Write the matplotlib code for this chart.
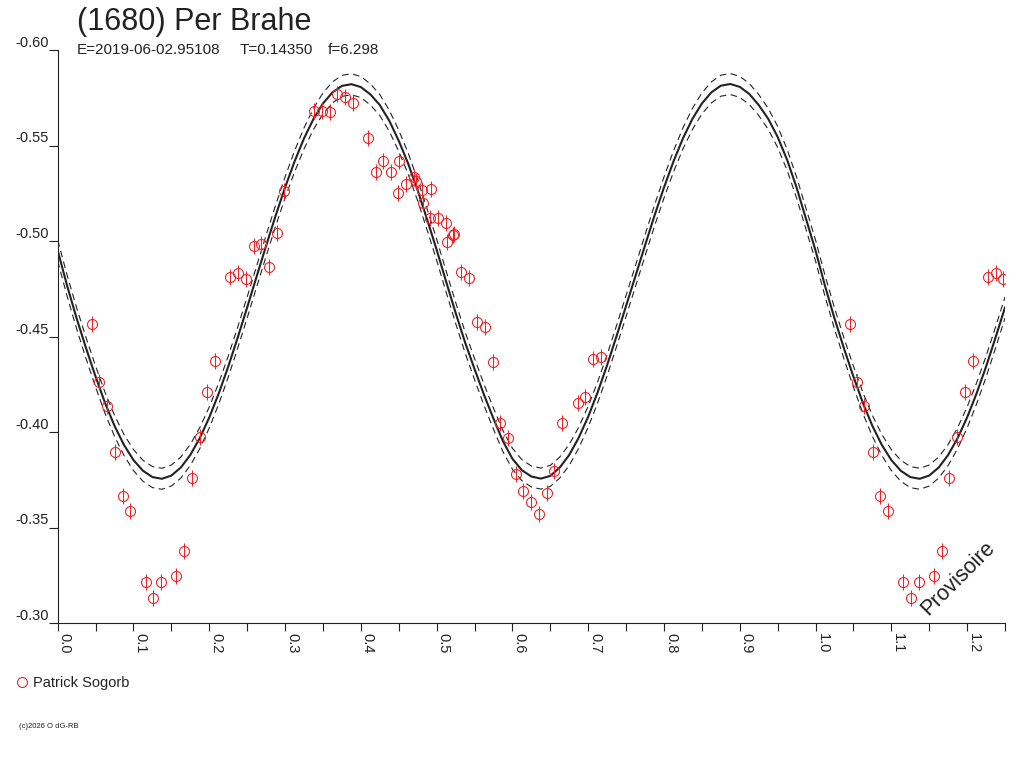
import matplotlib
matplotlib.use("Agg")
import matplotlib.pyplot as plt
from matplotlib.lines import Line2D
import numpy as np

plt.rcParams["font.family"] = ["Liberation Sans", "DejaVu Sans"]
plt.rcParams["axes.unicode_minus"] = False

TITLE = "(1680) Per Brahe"
EPOCH = "E=2019-06-02.95108"
PERIOD = "T=0.14350"
FREQ = "f=6.298"
OBSERVER = "Patrick Sogorb"
STAMP = "(c)2026 O dG-RB"
STATUS = "Provisoire"

# observations (phase, relative magnitude)
obs_phase = [
    0.0450, 0.0550, 0.0646, 0.0756, 0.0857, 0.0958, 0.1160, 0.1262, 0.1363, 0.1565,
    0.1670, 0.1767, 0.1873, 0.1974, 0.2075, 0.2277, 0.2379, 0.2480, 0.2586, 0.2686,
    0.2788, 0.2889, 0.2990, 0.3377, 0.3483, 0.3588, 0.3689, 0.3790, 0.3891, 0.4094,
    0.4199, 0.4296, 0.4397, 0.4499, 0.4485, 0.4591, 0.4707, 0.4731, 0.4810, 0.4921,
    0.4823, 0.4907, 0.5021, 0.5119, 0.5132, 0.5219, 0.5232, 0.5320, 0.5430, 0.5536,
    0.5637, 0.5739, 0.5835, 0.5937, 0.6046, 0.6143, 0.6244, 0.6350, 0.6451, 0.6552,
    0.6653, 0.6860, 0.6956, 0.7058, 0.7164,
]
obs_mag = [
    -0.4565, -0.4262, -0.4136, -0.3897, -0.3665, -0.3585, -0.3216, -0.3129, -0.3216, -0.3248,
    -0.3377, -0.3761, -0.3975, -0.4210, -0.4370, -0.4812, -0.4834, -0.4801, -0.4974, -0.4983,
    -0.4864, -0.5044, -0.5263, -0.5679, -0.5682, -0.5677, -0.5770, -0.5756, -0.5721, -0.5539,
    -0.5360, -0.5420, -0.5360, -0.5420, -0.5253, -0.5297, -0.5334, -0.5314, -0.5267, -0.5272,
    -0.5197, -0.5122, -0.5119, -0.5093, -0.4996, -0.5031, -0.5037, -0.4836, -0.4808, -0.4577,
    -0.4548, -0.4368, -0.4045, -0.3970, -0.3778, -0.3691, -0.3632, -0.3571, -0.3682, -0.3796,
    -0.4049, -0.4150, -0.4182, -0.4382, -0.4394,
]
obs_err = 0.0042

# fitted light curve sampled every 0.0125 in phase, from 0 to 1
fit_mag = [
    -0.4950, -0.4765, -0.4595, -0.4438, -0.4290, -0.4152, -0.4032, -0.3932, -0.3853, -0.3797,
    -0.3764, -0.3755, -0.3772, -0.3814, -0.3880, -0.3968, -0.4076, -0.4202, -0.4342, -0.4494,
    -0.4652, -0.4814, -0.4975, -0.5132, -0.5280, -0.5416, -0.5537, -0.5639, -0.5720, -0.5778,
    -0.5812, -0.5821, -0.5806, -0.5768, -0.5712, -0.5630, -0.5525, -0.5405, -0.5265, -0.5112,
    -0.4955, -0.4788, -0.4625, -0.4470, -0.4330, -0.4195, -0.4070, -0.3952, -0.3860, -0.3800,
    -0.3767, -0.3756, -0.3770, -0.3814, -0.3880, -0.3970, -0.4080, -0.4208, -0.4350, -0.4503,
    -0.4660, -0.4818, -0.4977, -0.5133, -0.5280, -0.5416, -0.5537, -0.5639, -0.5720, -0.5778,
    -0.5813, -0.5822, -0.5807, -0.5770, -0.5712, -0.5640, -0.5545, -0.5425, -0.5280, -0.5115,
    -0.4950,
]
fit_sigma = 0.0055

RED = "#e8262b"
INK = "#222222"

fig = plt.figure(figsize=(10.24, 7.68), dpi=100)
ax = fig.add_axes([57.7 / 1024, 1 - 623 / 768, (1005 - 57.7) / 1024, 573 / 768])

# curve over one rotation plus the first quarter repeated
fit_phase = np.linspace(0, 1, len(fit_mag))
fm = np.array(fit_mag)
cx = np.concatenate([fit_phase, fit_phase[1:21] + 1])
cy = np.concatenate([fm, fm[1:21]])
ax.plot(cx, cy, color=INK, lw=1.5, zorder=2)
for off in (-fit_sigma, fit_sigma):
    ax.plot(cx, cy + off, color=INK, lw=0.8, dashes=(6, 4), zorder=2)

ph = np.array(obs_phase)
mg = np.array(obs_mag)
wrap = ph < 0.25
px = np.concatenate([ph, ph[wrap] + 1])
pm = np.concatenate([mg, mg[wrap]])
ax.errorbar(px, pm, yerr=obs_err, fmt="o", mfc="none", mec=RED, ecolor=RED,
            ms=7.2, mew=0.8, elinewidth=0.8, capsize=0, zorder=3)

ax.set_xlim(0, 1.25)
ax.set_ylim(-0.30, -0.60)
for side in ("top", "right"):
    ax.spines[side].set_visible(False)
for side in ("left", "bottom"):
    ax.spines[side].set_color(INK)
    ax.spines[side].set_linewidth(0.8)

xt = np.round(np.arange(0, 1.21, 0.1), 2)
ax.set_xticks(xt)
ax.set_xticklabels([f"{t:.1f}" for t in xt], rotation=-90, ha="left", va="top")
ax.set_xticks(np.round(np.arange(0.05, 1.26, 0.1), 2), minor=True)
ax.tick_params(axis="x", which="both", direction="out", length=6, width=0.8,
               colors=INK, labelsize=10.5, pad=1.5)

yt = [-0.60, -0.55, -0.50, -0.45, -0.40, -0.35, -0.30]
ax.set_yticks(yt)
ax.set_yticklabels([f"{v:.2f}" for v in yt], va="bottom")
ax.tick_params(axis="y", direction="out", length=6.5, width=0.8,
               colors=INK, labelsize=10.5, pad=0)

fig.text(77 / 1024, 1 - 30 / 768, TITLE, fontsize=22, color=INK, va="baseline")
fig.text(77 / 1024, 1 - 54 / 768, EPOCH, fontsize=11, color=INK, va="baseline")
fig.text(240 / 1024, 1 - 54 / 768, PERIOD, fontsize=11, color=INK, va="baseline")
fig.text(328 / 1024, 1 - 54 / 768, FREQ, fontsize=11, color=INK, va="baseline")

handle = Line2D([], [], marker="o", ls="none", mfc="none", mec=RED, ms=7.2, mew=0.8)
fig.legend([handle], [OBSERVER], loc="center left",
           bbox_to_anchor=(15 / 1024, 1 - 683 / 768), frameon=False,
           handlelength=1, handletextpad=0.25, borderpad=0, borderaxespad=0,
           fontsize=10.5, labelcolor=INK)

fig.text(19 / 1024, 1 - 728 / 768, STAMP, fontsize=5.5, color=INK, va="baseline")
fig.text(958 / 1024, 1 - 578 / 768, STATUS, fontsize=15.5, color=INK,
         rotation=45, ha="center", va="center", rotation_mode="anchor")

fig.savefig("out.png", dpi=100)
